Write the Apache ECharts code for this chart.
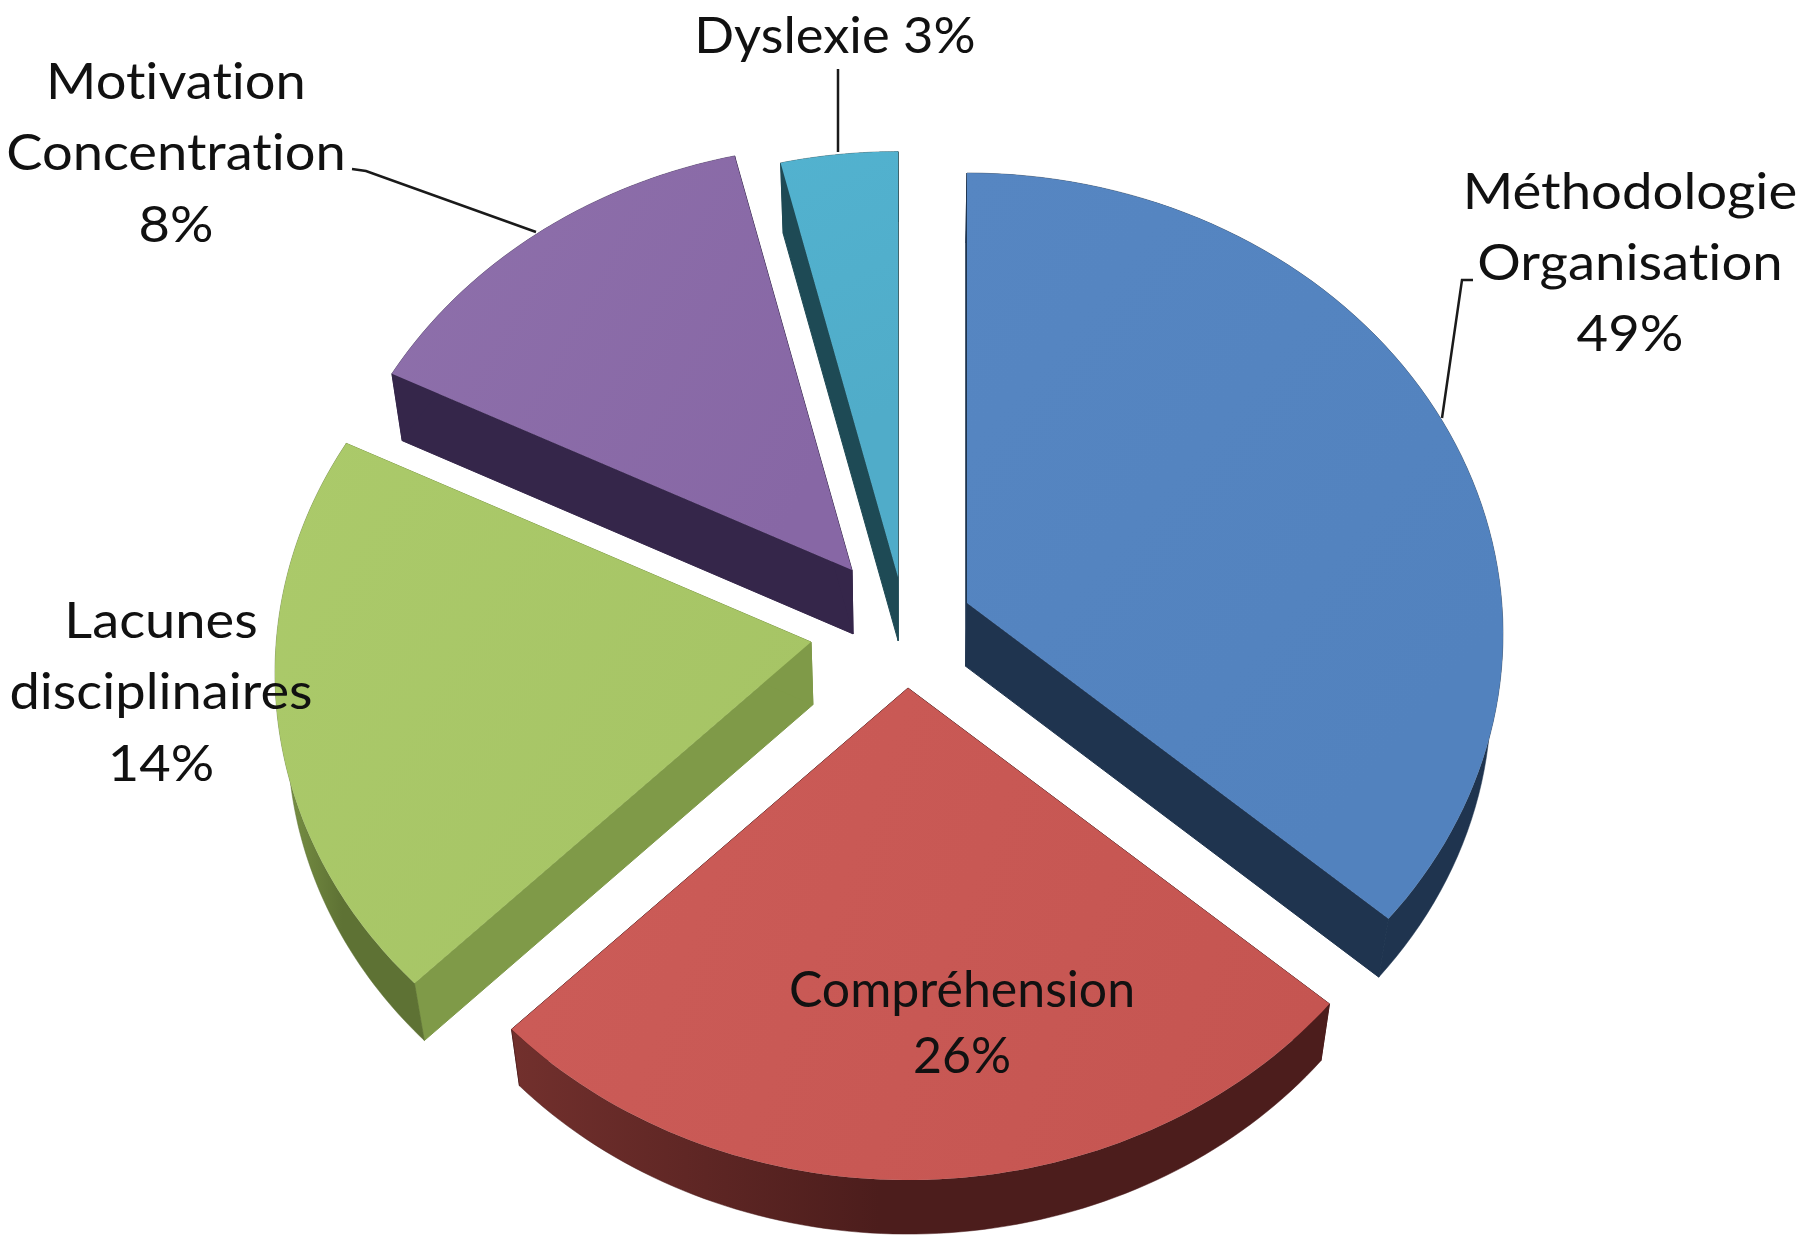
<!DOCTYPE html>
<html>
<head>
<meta charset="utf-8">
<style>html,body{margin:0;padding:0;background:#fff}#c{width:1807px;height:1235px;filter:blur(0.7px)}</style>
<script src="https://cdn.jsdelivr.net/npm/echarts@6/dist/echarts.min.js"></script>
</head>
<body>
<div id="c"></div>
<script>
// ---- data ----
const categories = ['Méthodologie\nOrganisation', 'Compréhension', 'Lacunes\ndisciplinaires', 'Motivation\nConcentration', 'Dyslexie'];
const labelledPercent = [49, 26, 14, 8, 3];           // what the labels print
const drawnShare = [35.6, 27.65, 20.05, 13.15, 3.55]; // the size the slices are drawn with

// ---- styling and layout ----
const topColors = [['#5686c2','#5282be'], ['#cc5c58','#c55551'], ['#abca6a','#a6c465'], ['#8e70ab','#8767a5'], ['#52b2cf','#50acc9']];
const wallColors = ['#1f344f', '#4e1e1d', '#7f9a48', '#35264a', '#1e4a55'];
const arcColors = [['#1f344f','#1f344f'], ['#72302d','#4c1d1c'], ['#7d9647','#5e7234'], ['#35264a','#35264a'], ['#1e4a55','#1e4a55']];
const apexes = [[967,603],[908,688],[811,642],[852,570],[898,577]];
const scales = [1, 1, 1, 0.99, 0.99];
const labelPos = [[1630,264,71,1.09],[962,1024,66,1.0],[161,693,71.5,1.085],[176,154,71.5,1.085],[835,37,0,1.05]];
const leaders = [
  [[1473,280],[1462,280],[1442,418]],
  null,
  null,
  [[352,169],[366,171],[536,232]],
  [[838,69],[838,152]]
];
const RX = 536, RY = 461, EY = 31, VX = 905, SX = 0.98, SY = 0.984, KY = 73;

// turn off Lato's "ti" ligature, which the reference font does not have
const origGetContext = HTMLCanvasElement.prototype.getContext;
HTMLCanvasElement.prototype.getContext = function () {
  const ctx = origGetContext.apply(this, arguments);
  if (ctx && 'textRendering' in ctx) ctx.textRendering = 'optimizeSpeed';
  return ctx;
};

const starts = [];
drawnShare.reduce((s, v, i) => (starts[i] = s, s + v), 0);
const total = drawnShare.reduce((a, b) => a + b, 0);

function topPt(a, t, s) { return [a[0] + s * RX * Math.sin(t), a[1] + EY - s * RY * Math.cos(t)]; }
function lowPt(p) { return [VX + SX * (p[0] - VX), SY * p[1] + KY]; }

function renderSlice(params, api) {
  const i = params.dataIndex;
  const share = api.value(0);
  const a = apexes[i];
  const t0 = starts[i] / total * 2 * Math.PI;
  const t1 = (starts[i] + share) / total * 2 * Math.PI;
  const arc = [];
  const n = 80;
  for (let k = 0; k <= n; k++) arc.push(topPt(a, t0 + (t1 - t0) * k / n, scales[i]));
  const arcLow = arc.map(lowPt);
  const aLow = lowPt(a);
  const flat = c => ({ fill: c, stroke: c, lineWidth: 1 });
  const children = [
    { type: 'polygon', shape: { points: [a, arc[0], arcLow[0], aLow] }, style: flat(wallColors[i]) },
    { type: 'polygon', shape: { points: [a, arc[n], arcLow[n], aLow] }, style: flat(wallColors[i]) },
    { type: 'polygon', shape: { points: arc.concat(arcLow.slice().reverse()) },
      style: { fill: new echarts.graphic.LinearGradient(0, 0, 1, 0, [
        { offset: 0, color: arcColors[i][0] }, { offset: 0.45, color: arcColors[i][1] }, { offset: 1, color: arcColors[i][1] }]),
        stroke: arcColors[i][1], lineWidth: 0.5 } },
    { type: 'polygon', shape: { points: [a].concat(arc) },
      style: { fill: new echarts.graphic.LinearGradient(0, 0, 1, 0.6, [
        { offset: 0, color: topColors[i][0] }, { offset: 1, color: topColors[i][1] }]) } }
  ];
  return { type: 'group', children };
}

function renderLabel(params, api) {
  const i = params.dataIndex;
  const pos = labelPos[i];
  const text = categories[i] + (pos[2] ? '\n' : ' ') + api.value(0) + '%';
  const children = [{
    type: 'text', x: pos[0], y: pos[1], scaleX: pos[3],
    style: { text, fill: '#111', font: '400 50px Lato, "Open Sans", sans-serif',
      align: 'center', verticalAlign: 'middle', lineHeight: pos[2] || 60 }
  }];
  if (leaders[i]) children.push({
    type: 'polyline', shape: { points: leaders[i] },
    style: { fill: null, stroke: '#1a1a1a', lineWidth: 2.5 }
  });
  return { type: 'group', children };
}

const chart = echarts.init(document.getElementById('c'), null, { renderer: 'canvas' });
chart.setOption({
  backgroundColor: '#fff',
  animation: false,
  series: [
    { type: 'custom', coordinateSystem: 'none', renderItem: renderSlice, data: drawnShare.map(v => [v]), silent: true, z: 2 },
    { type: 'custom', coordinateSystem: 'none', renderItem: renderLabel, data: labelledPercent.map(v => [v]), silent: true, z: 3 }
  ]
});
</script>
</body>
</html>
